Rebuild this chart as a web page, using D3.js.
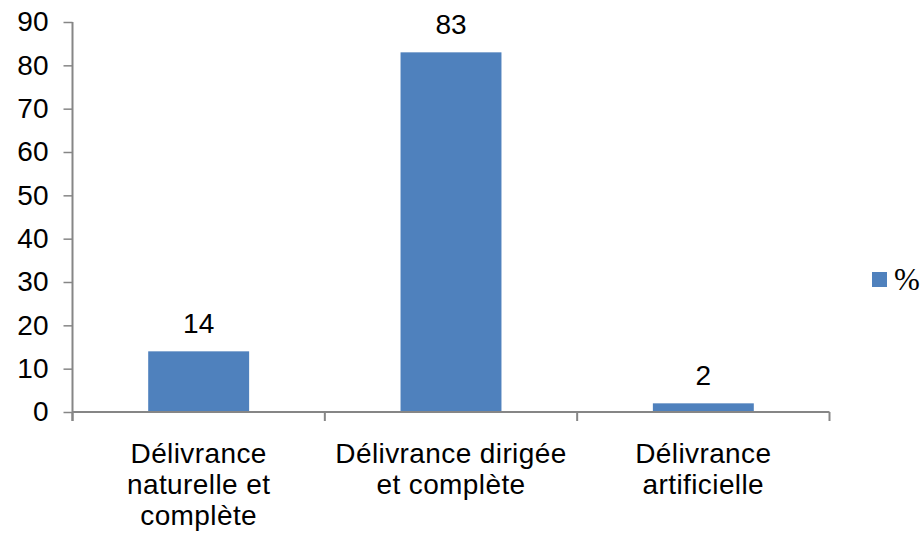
<!DOCTYPE html>
<html>
<head>
<meta charset="utf-8">
<script src="https://cdn.jsdelivr.net/npm/d3@7"></script>
<style>
  body { margin: 0; background: #fff; }
  svg { display: block; }
</style>
</head>
<body>
<div id="chart"></div>
<script>
// chart data
var categories = ["Délivrance naturelle et complète", "Délivrance dirigée et complète", "Délivrance artificielle"];
var labelLines = [
    ["Délivrance", "naturelle et", "complète"],
    ["Délivrance dirigée", "et complète"],
    ["Délivrance", "artificielle"]
];
var values = [14, 83, 2];
var yTicks = [0, 10, 20, 30, 40, 50, 60, 70, 80, 90];
var seriesName = "%";

var width = 922, height = 537;
var margin = { left: 72.5, right: 92.5, top: 22, bottom: 125 };
var barColor = "#4F81BD", axisColor = "#868686";
var font = "'Liberation Sans', Arial, sans-serif";

var svg = d3.select("#chart").append("svg")
    .attr("width", width)
    .attr("height", height);

var x = d3.scaleBand()
    .domain(categories)
    .range([margin.left, width - margin.right])
    .paddingInner(0.6)
    .paddingOuter(0.3);

var y = d3.scaleLinear()
    .domain([0, 90])
    .range([height - margin.bottom, margin.top]);

var y0 = y(0);

// bars
svg.append("g").selectAll("rect")
    .data(values)
    .enter().append("rect")
    .attr("x", function(d, i) { return x(categories[i]); })
    .attr("y", function(d) { return y(d); })
    .attr("width", x.bandwidth())
    .attr("height", function(d) { return y0 - y(d); })
    .attr("fill", barColor);

// value labels
svg.append("g").selectAll("text")
    .data(values)
    .enter().append("text")
    .attr("x", function(d, i) { return x(categories[i]) + x.bandwidth() / 2; })
    .attr("y", function(d) { return y(d) - 18; })
    .attr("text-anchor", "middle")
    .style("font-family", font)
    .style("font-size", "28px")
    .text(function(d) { return d; });

// y axis
var yAxis = svg.append("g")
    .attr("transform", "translate(" + margin.left + ",0)")
    .call(d3.axisLeft(y).tickValues(yTicks).tickSize(9).tickPadding(15));
yAxis.select(".domain").remove();
yAxis.selectAll(".tick line").attr("stroke", axisColor).attr("stroke-width", 1.5);
yAxis.selectAll(".tick text")
    .style("font-family", font)
    .style("font-size", "28px")
    .attr("fill", "#000");
yAxis.append("line")
    .attr("x1", 0).attr("x2", 0)
    .attr("y1", margin.top).attr("y2", y0 + 9)
    .attr("stroke", axisColor).attr("stroke-width", 2);

// x axis baseline and category dividers
var xLeft = margin.left, xRight = width - margin.right;
var dividers = d3.range(categories.length + 1).map(function(i) {
    return xLeft + i * (xRight - xLeft) / categories.length;
});
svg.append("line")
    .attr("x1", xLeft).attr("x2", xRight)
    .attr("y1", y0).attr("y2", y0)
    .attr("stroke", axisColor).attr("stroke-width", 2);
svg.append("g").selectAll("line")
    .data(dividers)
    .enter().append("line")
    .attr("x1", function(d) { return d; }).attr("x2", function(d) { return d; })
    .attr("y1", y0).attr("y2", y0 + 9)
    .attr("stroke", axisColor).attr("stroke-width", 2);

// category labels
var catG = svg.append("g").selectAll("text")
    .data(categories)
    .enter().append("text")
    .attr("text-anchor", "middle")
    .style("font-family", font)
    .style("font-size", "28px")
    .style("letter-spacing", "0.4px");
catG.each(function(d, i) {
    var cx = x(d) + x.bandwidth() / 2;
    d3.select(this).selectAll("tspan")
        .data(labelLines[i])
        .enter().append("tspan")
        .attr("x", cx)
        .attr("y", function(l, j) { return 463 + j * 31; })
        .text(function(l) { return l; });
});

// legend
var legend = svg.append("g").attr("transform", "translate(872,272)");
legend.append("rect")
    .attr("width", 15).attr("height", 15)
    .attr("fill", barColor);
legend.append("text")
    .attr("x", 22).attr("y", 18)
    .style("font-family", "'Liberation Serif', 'Times New Roman', serif")
    .style("font-size", "31px")
    .text(seriesName);
</script>
</body>
</html>
